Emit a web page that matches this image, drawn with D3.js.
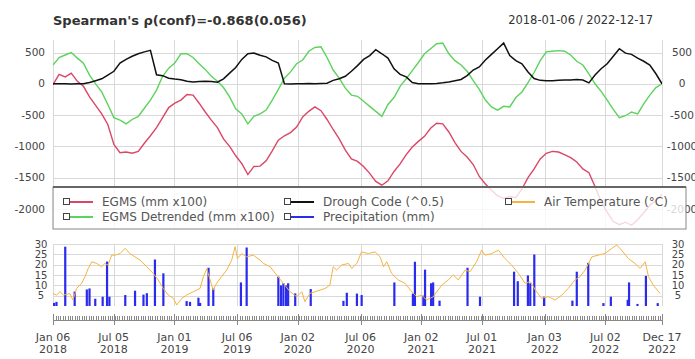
<!DOCTYPE html>
<html>
<head>
<meta charset="utf-8">
<title>EGMS vs Drought Code</title>
<style>
body { margin: 0; background: #fff; }
svg text { font-family: "DejaVu Sans", sans-serif; fill: #444; }
.grid line { stroke: #d9d9d9; stroke-width: 1; shape-rendering: crispEdges; }
.axisLabel { font-size: 10.5px; }
.legendText { font-size: 12px; fill: #555; }
.timeLabel { font-size: 11px; fill: #555; }
</style>
<script src="https://d3js.org/d3.v7.min.js"></script>
</head>
<body>
<svg id="chart" width="695" height="359"></svg>
<script>

var startDate = new Date(2018, 0, 6);
var endDate = new Date(2022, 11, 17);

// top panel: one sample every 1/100 of the period
var egms = [-15, 150, 110, 170, 40, -40, -210, -345, -480, -650, -970, -1100, -1090, -1110, -1080, -950, -830, -700, -540, -380,
  -310, -260, -170, -180, -310, -450, -580, -700, -880, -1000, -1150, -1275, -1450, -1320,
  -1315, -1230, -1070, -900, -830, -780, -690, -530, -440, -370, -430, -570, -730, -880, -1060, -1200,
  -1240, -1320, -1430, -1560, -1620, -1550, -1400, -1280, -1130, -1010, -920, -840, -710, -630, -640, -770, -940, -1080,
  -1170, -1290, -1480, -1600, -1700, -1790, -1830, -1800, -1820, -1680, -1500, -1360, -1200, -1110, -1080, -1090,
  -1130, -1180, -1250, -1360, -1420, -1640, -1880, -2050, -2200, -2250, -2210, -2260, -2170, -2060, -1940, -1860, -1770];

var egmsDetrended = [300, 420, 460, 500, 410, 330, 140, 0, -130, -330, -540, -580, -640, -570, -520, -390, -260, -100, 120, 250,
  330, 480, 480, 420, 320, 230, 120, 40, -60, -210, -400, -480, -640, -520,
  -480, -420, -260, -90, 90, 190, 320, 380, 520, 580, 590, 420, 220, 90, -70, -180, -200, -280, -360, -440,
  -520, -330, -220, -40, 80, 210, 340, 480, 560, 640, 650, 480, 370, 300,
  200, 50, -90, -260, -370, -420, -360, -370, -220, -130, 20, 180, 370, 510, 520, 530, 520, 460, 360, 300,
  160, 0, -120, -260, -410, -540, -510, -450, -480, -320, -180, -60, 0];

var droughtCode = [0, 0, 0, -5, 0, 0, 20, 50, 80, 140, 200, 330, 390, 440, 480, 510, 535, 145, 130, 90,
  75, 65, 40, 30, 35, 40, 35, 25, 80, 170, 260, 390, 480, 490,
  455, 430, 375, 330, 0, -5, 0, 0, 5, 0, 5, 10, 55, 80, 120, 200, 290, 390, 450, 545,
  480, 410, 240, 150, 110, 20, 0, 0, 0, 5, 15, 30, 50, 70,
  130, 220, 270, 380, 470, 560, 650, 450, 370, 320, 190, 85, 55, 50, 50, 55, 60, 60, 70, 60,
  15, 140, 240, 320, 440, 560, 490, 470, 410, 360, 300, 160, 0];

// bottom panel: days after 2018-01-06
var tempDay = [0, 10, 21, 31, 50, 59, 70, 85, 95, 104, 115, 130, 144, 154, 163, 174, 184, 199, 214, 228,
  243, 258, 278, 297, 312, 327, 342, 357, 367, 382, 396, 416, 436, 446, 456, 466, 475, 485, 500, 515,
  530, 540, 547, 560, 574, 594, 614, 624, 644, 663, 683, 703, 723, 738, 747, 762, 777, 792, 807, 821,
  831, 841, 856, 876, 886, 901, 915, 935, 955, 970, 980, 990, 1004, 1024, 1044, 1064, 1079, 1093, 1108, 1128,
  1138, 1153, 1172, 1187, 1202, 1222, 1237, 1256, 1271, 1281, 1301, 1321, 1340, 1360, 1380, 1400, 1415, 1434, 1449, 1469,
  1489, 1509, 1528, 1548, 1563, 1578, 1598, 1617, 1637, 1657, 1672, 1686, 1706, 1726, 1741, 1756, 1766, 1780, 1800];
var airTemp = [6.1, 5.3, 6.9, 5.3, 6, 2.9, 8.5, 11, 14.2, 18, 21.4, 20.6, 19, 20.6, 19.8, 24.6, 24.6, 25.4, 27.9, 25.4,
  23.8, 22.2, 19, 15.8, 12.6, 8.5, 5.3, 3.7, 0.5, 3.7, 5.3, 6.9, 8.5, 14.2, 18, 12.6, 7.7, 11, 14.2, 17.4,
  22.2, 28.7, 23, 25.4, 23.8, 24.6, 22.2, 20.6, 19, 15, 11, 6.9, 4.5, 6.9, 2.1, 6.1, 6.9, 7.7, 8.5, 10.1,
  19, 17.4, 19.8, 20.6, 18.2, 20.6, 26.2, 25.4, 26.2, 23.8, 19, 21.4, 15.8, 12.6, 11, 6.9, 4.5, 5.3, 2.9, 4.5,
  6.9, 10.1, 12.6, 15, 12.6, 17.4, 16.6, 21.4, 27, 24.6, 25.4, 27, 23, 19.8, 15.8, 11, 11.8, 6.9, 3.7, 4.5,
  2.9, 5.3, 8.5, 12.6, 14.2, 17.4, 23.8, 24.6, 25.4, 27.9, 29.5, 27, 23, 20.6, 18.2, 21.4, 14.2, 10.1, 6.1];

var rainDay = [3, 10, 36, 64, 100, 108, 125, 147, 160, 167, 214, 243, 268, 278, 302, 327, 396, 406, 431, 436,
  461, 475, 557, 574, 668, 676, 683, 691, 697, 718, 764, 861, 871, 901, 915, 1012, 1067, 1073, 1098, 1103,
  1121, 1127, 1146, 1229, 1266, 1367, 1378, 1408, 1415, 1427, 1456, 1540, 1553, 1587, 1632, 1654, 1704, 1708, 1733, 1758, 1793];
var rain = [1.5, 2, 28.7, 7, 8, 8.5, 3.5, 4.5, 21.5, 4.5, 5.3, 7.4, 5.5, 6.2, 22.5, 15.8, 2.4, 2, 4, 1.5,
  18.5, 8.5, 11.4, 28.3, 14.2, 10, 11, 10, 11, 6.1, 8.2, 2.5, 6.4, 6, 5.3, 11.4, 6, 21.4, 5, 17.6,
  11, 11.4, 2.6, 18.5, 4.5, 16.6, 12, 14.8, 11, 24.9, 4.5, 2.6, 16.6, 20.9, 1.4, 4.5, 3, 11.4, 1, 14.6, 1.4];

var tickDates = ["2018-01-06", "2018-07-05", "2019-01-01", "2019-07-06", "2020-01-02", "2020-07-06",
  "2021-01-02", "2021-07-01", "2022-01-03", "2022-07-02", "2022-12-17"];
var topTicks = [500, 0, -500, -1000, -1500, -2000];
var bottomTicks = [5, 10, 15, 20, 25, 30];

var legendItems = [
  {label: "EGMS (mm x100)", color: "#dc4666", col: 0, row: 0},
  {label: "EGMS Detrended (mm x100)", color: "#5cd35c", col: 0, row: 1},
  {label: "Drough Code (^0.5)", color: "#111111", col: 1, row: 0},
  {label: "Precipitation (mm)", color: "#2b2bee", col: 1, row: 1},
  {label: "Air Temperature (°C)", color: "#f5b440", col: 2, row: 0}
];

var parseDay = d3.timeParse("%Y-%m-%d");
var ticks = tickDates.map(parseDay);
var sampleDates = d3.range(egms.length).map(i => new Date(+startDate + i * (endDate - startDate) / (egms.length - 1)));

var x = d3.scaleTime().domain([startDate, endDate]).range([53, 662]);
var yTop = d3.scaleLinear().domain([-2000, 500]).range([209, 52.5]);
var yBot = d3.scaleLinear().domain([0, 30]).range([306, 244]);

var svg = d3.select("#chart");

svg.append("text")
  .attr("x", 53).attr("y", 25)
  .style("font-size", "13px").style("font-weight", "bold").style("fill", "#333")
  .text("Spearman's \u03c1(conf)=-0.868(0.056)");

svg.append("text")
  .attr("x", 653).attr("y", 24)
  .attr("text-anchor", "end")
  .style("font-size", "11.5px").style("fill", "#333")
  .text("2018-01-06 / 2022-12-17");

// ---- top panel
svg.append("clipPath").attr("id", "topClip")
  .append("rect").attr("x", 53).attr("y", 40).attr("width", 609).attr("height", 189);

var gridTop = svg.append("g").attr("class", "grid");
gridTop.selectAll(".h").data(topTicks).join("line")
  .attr("x1", 53).attr("x2", 662)
  .attr("y1", d => Math.round(yTop(d)) + 0.5).attr("y2", d => Math.round(yTop(d)) + 0.5);
gridTop.selectAll(".v").data(ticks).join("line")
  .attr("x1", d => Math.round(x(d)) + 0.5).attr("x2", d => Math.round(x(d)) + 0.5)
  .attr("y1", 40).attr("y2", 229);

var topLine = function(values) {
  return d3.line()
    .x((d, i) => x(sampleDates[i]))
    .y(d => yTop(d))(values);
};

var lines = svg.append("g").attr("clip-path", "url(#topClip)").attr("fill", "none");
lines.append("path").attr("d", topLine(egms)).attr("stroke", legendItems[0].color).attr("stroke-width", 1.4);
lines.append("path").attr("d", topLine(egmsDetrended)).attr("stroke", legendItems[1].color).attr("stroke-width", 1.4);
lines.append("path").attr("d", topLine(droughtCode)).attr("stroke", legendItems[2].color).attr("stroke-width", 1.5);

svg.append("g").attr("class", "axisLabel").selectAll("text").data(topTicks).join("text")
  .attr("x", 45).attr("y", d => yTop(d)).attr("dy", "0.35em")
  .attr("text-anchor", "end").text(d => d);

svg.append("g").attr("class", "axisLabel").selectAll("text").data(topTicks).join("text")
  .attr("x", 682).attr("y", d => yTop(d)).attr("dy", "0.35em")
  .attr("text-anchor", "middle").text(d => d);

// legend over the lower part of the top panel
var legend = svg.append("g");
legend.append("rect")
  .attr("x", 53).attr("y", 187).attr("width", 633).attr("height", 42)
  .attr("fill", "#fff").attr("fill-opacity", 0.78)
  .attr("stroke", "#888").attr("stroke-width", 1);
legend.append("line")
  .attr("x1", 53).attr("x2", 686).attr("y1", 187).attr("y2", 187)
  .attr("stroke", "#666").attr("stroke-width", 2);

var colX = [63, 284, 505];
var rowY = [202, 217];
var entry = legend.selectAll("g.entry").data(legendItems).join("g")
  .attr("transform", d => `translate(${colX[d.col]},${rowY[d.row]})`);
entry.append("line")
  .attr("x1", 5).attr("x2", 30).attr("y1", 0).attr("y2", 0)
  .attr("stroke", d => d.color).attr("stroke-width", 2);
entry.append("rect")
  .attr("x", 0.5).attr("y", -3.5).attr("width", 6).attr("height", 6)
  .attr("fill", "#fff").attr("stroke", "#444");
entry.append("text")
  .attr("class", "legendText")
  .attr("x", 39).attr("y", 0).attr("dy", "0.35em")
  .text(d => d.label);

// ---- bottom panel
var gridBot = svg.append("g").attr("class", "grid");
gridBot.selectAll(".h").data(bottomTicks).join("line")
  .attr("x1", 53).attr("x2", 662)
  .attr("y1", d => Math.round(yBot(d)) + 0.5).attr("y2", d => Math.round(yBot(d)) + 0.5);
gridBot.selectAll(".v").data(ticks).join("line")
  .attr("x1", d => Math.round(x(d)) + 0.5).attr("x2", d => Math.round(x(d)) + 0.5)
  .attr("y1", 244).attr("y2", 306);

svg.append("g").selectAll("rect").data(rain).join("rect")
  .attr("x", (d, i) => x(d3.timeDay.offset(startDate, rainDay[i])) - 1)
  .attr("width", 2.2)
  .attr("y", d => yBot(d))
  .attr("height", d => yBot(0) - yBot(d))
  .attr("fill", legendItems[3].color);

svg.append("path")
  .attr("fill", "none")
  .attr("stroke", legendItems[4].color)
  .attr("stroke-width", 1)
  .attr("d", d3.line()
    .x((d, i) => x(d3.timeDay.offset(startDate, tempDay[i])))
    .y(d => yBot(d))(airTemp));

svg.append("g").style("font-size", "10px").selectAll("text").data(bottomTicks).join("text")
  .attr("x", 41).attr("y", d => yBot(d)).attr("dy", "0.35em")
  .attr("text-anchor", "middle").text(d => d);

svg.append("g").style("font-size", "10px").selectAll("text").data(bottomTicks).join("text")
  .attr("x", 678).attr("y", d => yBot(d)).attr("dy", "0.35em")
  .attr("text-anchor", "middle").text(d => d);

// ---- time axis under the panels
var axisG = svg.append("g").attr("stroke", "#888").attr("shape-rendering", "crispEdges");
axisG.append("line").attr("x1", 53).attr("x2", 662).attr("y1", 320.5).attr("y2", 320.5);
axisG.selectAll(".minor").data(d3.timeWeek.range(startDate, endDate)).join("line")
  .attr("x1", d => Math.round(x(d)) + 0.5).attr("x2", d => Math.round(x(d)) + 0.5)
  .attr("y1", 316).attr("y2", 320);
axisG.selectAll(".major").data(ticks).join("line")
  .attr("x1", d => Math.round(x(d)) + 0.5).attr("x2", d => Math.round(x(d)) + 0.5)
  .attr("y1", 314).attr("y2", 325);

var fmtDay = d3.timeFormat("%b %d");
var fmtYear = d3.timeFormat("%Y");
var lbl = svg.append("g").attr("class", "timeLabel").selectAll("text").data(ticks).join("text")
  .attr("text-anchor", "middle")
  .attr("x", d => x(d));
lbl.append("tspan").attr("x", d => x(d)).attr("y", 341).text(d => fmtDay(d));
lbl.append("tspan").attr("x", d => x(d)).attr("y", 353).text(d => fmtYear(d));

</script>
</body>
</html>
